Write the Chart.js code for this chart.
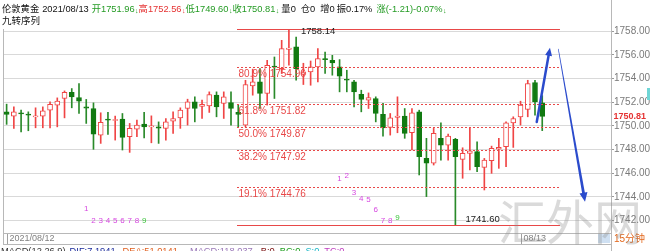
<!DOCTYPE html>
<html>
<head>
<meta charset="utf-8">
<script src="https://cdn.jsdelivr.net/npm/chart.js@4.4.0/dist/chart.umd.min.js"></script>
<style>
  html, body { margin: 0; padding: 0; background: #ffffff; }
  #wrap { width: 650px; height: 251px; position: relative; overflow: hidden; }
</style>
</head>
<body>
<div id="wrap"><canvas id="chart" width="650" height="251"></canvas></div>
<script>
// 15 minute candles, London gold
var opens  = [1751.19, 1750.83, 1751.10, 1750.99, 1750.77, 1750.83, 1751.33, 1751.76, 1752.32, 1752.85,
              1752.40, 1751.61, 1751.47, 1749.22, 1750.57, 1750.46, 1750.57, 1749.08, 1749.73, 1750.15,
              1749.92, 1749.92, 1749.79, 1750.40, 1750.68, 1751.47, 1752.03, 1751.64, 1751.70, 1752.60,
              1751.90, 1751.98, 1751.14, 1750.07, 1753.38, 1753.72, 1752.74, 1755.06, 1754.85, 1756.48,
              1756.68, 1754.35, 1754.57, 1754.99, 1755.70, 1755.55, 1754.99, 1753.95, 1753.72, 1752.68,
              1752.18, 1752.32, 1750.97, 1749.87, 1750.72, 1750.83, 1749.42, 1751.19, 1747.25, 1746.84,
              1748.95, 1748.38, 1748.86, 1747.17, 1747.68, 1747.82, 1746.49, 1747.05, 1748.04, 1748.24,
              1750.26, 1750.77, 1751.39, 1753.67, 1751.96];
var highs  = [1751.84, 1751.61, 1751.33, 1751.19, 1751.53, 1751.61, 1752.03, 1752.37, 1752.96, 1753.16,
              1753.59, 1752.24, 1751.95, 1751.11, 1751.14, 1750.83, 1751.05, 1750.21, 1750.49, 1751.14,
              1750.85, 1750.34, 1750.63, 1751.19, 1751.53, 1752.26, 1752.46, 1752.18, 1752.88, 1752.88,
              1752.88, 1752.88, 1751.76, 1753.86, 1754.80, 1754.85, 1755.55, 1755.83, 1757.24, 1758.14,
              1757.52, 1755.30, 1755.49, 1756.54, 1756.25, 1755.97, 1755.61, 1754.71, 1753.86, 1753.02,
              1752.79, 1752.46, 1751.90, 1751.05, 1752.46, 1751.47, 1751.47, 1751.33, 1748.95, 1749.79,
              1750.26, 1749.31, 1748.95, 1748.15, 1749.79, 1748.66, 1747.25, 1748.29, 1748.95, 1750.34,
              1750.77, 1752.09, 1753.86, 1753.86, 1752.56];
var lows   = [1750.13, 1749.79, 1749.50, 1749.59, 1749.84, 1749.84, 1749.84, 1749.92, 1750.68, 1751.53,
              1751.05, 1750.21, 1748.02, 1748.52, 1749.28, 1748.80, 1747.96, 1747.76, 1749.08, 1748.99,
              1748.57, 1748.52, 1748.80, 1749.37, 1749.79, 1750.07, 1750.34, 1750.63, 1751.14, 1750.77,
              1750.63, 1750.07, 1749.92, 1749.92, 1752.60, 1751.47, 1751.76, 1752.32, 1754.43, 1755.13,
              1753.86, 1753.50, 1753.44, 1753.72, 1754.43, 1754.29, 1752.88, 1752.88, 1751.61, 1751.19,
              1751.47, 1750.34, 1749.14, 1749.22, 1749.42, 1748.95, 1747.96, 1745.85, 1744.02, 1746.69,
              1747.11, 1747.11, 1741.60, 1745.57, 1746.27, 1746.13, 1744.58, 1745.99, 1746.41, 1746.55,
              1748.18, 1750.07, 1750.77, 1750.91, 1749.60];
var closes = [1750.97, 1751.19, 1751.02, 1750.91, 1750.85, 1751.27, 1751.82, 1752.09, 1752.85, 1752.46,
              1752.09, 1751.50, 1749.31, 1750.30, 1750.49, 1750.54, 1749.03, 1749.79, 1750.07, 1749.92,
              1750.00, 1749.80, 1750.34, 1750.63, 1751.33, 1752.03, 1751.47, 1751.82, 1752.66, 1751.61,
              1752.46, 1751.47, 1750.97, 1753.50, 1753.72, 1752.74, 1755.13, 1754.96, 1756.54, 1756.59,
              1754.85, 1754.57, 1754.99, 1755.70, 1755.61, 1755.32, 1754.20, 1753.86, 1752.88, 1752.24,
              1752.40, 1751.05, 1749.84, 1750.68, 1750.83, 1749.37, 1751.11, 1747.39, 1746.84, 1749.37,
              1748.38, 1749.14, 1747.39, 1747.68, 1747.90, 1746.55, 1747.11, 1748.10, 1748.18, 1750.26,
              1750.63, 1751.76, 1753.59, 1752.03, 1750.81];

var slotCount = 84;            // candle slots across the pane (last ones empty)
var priceTicks = [1742, 1744, 1746, 1748, 1750, 1752, 1754, 1756, 1758];
var yMin = 1740.94, yMax = 1758.79;
var lastPrice = 1750.81;

// Fibonacci retracement drawn from the high to the low
var fibPercents = ['', '80.9%', '61.8%', '50.0%', '38.2%', '19.1%', ''];
var fibPrices   = [1758.14, 1754.96, 1751.82, 1749.87, 1747.92, 1744.76, 1741.60];
var fibFrom = 31.83, fibTo = 76.45;

// 九转序列 counts
var tdIndex1 = [11, 12, 13, 14, 15, 16, 17, 18, 19];
var tdPrice1 = [1742.97, 1741.96, 1741.96, 1741.96, 1741.96, 1741.96, 1741.96, 1741.96, 1741.96];
var tdIndex2 = [46, 47, 48, 49, 50, 51, 52, 53, 54];
var tdPrice2 = [1745.56, 1745.78, 1744.38, 1743.81, 1743.79, 1742.89, 1741.96, 1741.98, 1742.19];

// hand drawn arrows [index, price]
var arrowUp   = [[73.24, 1750.33], [75.07, 1756.61]];
var arrowDown = [[76.22, 1756.52], [79.91, 1743.59]];

var dateTicks = [[0, '2021/08/12'], [71, '08/13']];

var upColor = '#f04545';
var downColor = '#117a11';
var fibColor = '#e84848';
var green = '#249b24';
var red = '#e53232';

// [text, colour, gap before, trailing arrow]
var headerSegs = [
    ['伦敦黄金', '#111', 0, false],
    ['2021/08/13', '#111', 3, false],
    ['开1751.96', green, 3, true],
    ['高1752.56', red, 0, true],
    ['低1749.60', green, 0, true],
    ['收1750.81', green, 0, true],
    ['量0', '#111', 2, false],
    ['仓0', '#111', 5, false],
    ['增0', '#111', 5, false],
    ['振0.17%', '#111', 2, false],
    ['涨(-1.21)-0.07%', green, 4, true]
];
var macdSegs = [
    ['MACD(12,26,9)', '#333', 0, false],
    ['DIF:7.1941', '#1a2a9a', 4, true],
    ['DEA:51.0141', '#e06020', 3, true],
    ['MACD:118.037', '#9a78b8', 8, true],
    ['B:0', '#7a1010', 4, false],
    ['BC:0', '#20a020', 5, false],
    ['S:0', '#20b8c8', 5, false],
    ['TC:0', '#c040c0', 5, false]
];

var timeLabels = [];
for (var k = 0; k < slotCount; k++) {
    var m = 6 * 60 + k * 15;
    var hh = Math.floor(m / 60) % 24, mm = m % 60;
    timeLabels.push((hh < 10 ? '0' : '') + hh + ':' + (mm < 10 ? '0' : '') + mm);
}

var FONT = '"Liberation Sans", "Noto Sans CJK SC", sans-serif';

function isUp(i) { return closes[i] >= opens[i]; }

function drawFlow(ctx, segs, x, y, size) {
    ctx.textBaseline = 'middle';
    ctx.textAlign = 'left';
    segs.forEach(function(s) {
        x += s[2];
        ctx.font = size + 'px ' + FONT;
        ctx.fillStyle = s[1];
        ctx.fillText(s[0], x, y);
        x += ctx.measureText(s[0]).width;
        if (s[3]) {
            ctx.font = '7px ' + FONT;
            ctx.fillText('↓', x + 0.5, y + 2);
            x += 4;
        }
    });
}

var overlayPlugin = {
    id: 'overlay',
    afterDatasetsDraw: function(chart) {
        var ctx = chart.ctx;
        var xs = chart.scales.x, ys = chart.scales.y;
        var x0 = xs.getPixelForValue(fibFrom), x1 = xs.getPixelForValue(fibTo);
        ctx.save();

        // fib levels
        fibPrices.forEach(function(p, i) {
            var y = Math.floor(ys.getPixelForValue(p)) + 0.5;
            ctx.strokeStyle = fibColor;
            ctx.lineWidth = 1;
            ctx.setLineDash(fibPercents[i] ? [2, 2] : []);
            ctx.beginPath();
            ctx.moveTo(x0, y);
            ctx.lineTo(x1, y);
            ctx.stroke();
            ctx.setLineDash([]);
            ctx.textBaseline = 'middle';
            ctx.textAlign = 'left';
            if (fibPercents[i]) {
                ctx.font = '10px ' + FONT;
                ctx.fillStyle = fibColor;
                ctx.fillText(fibPercents[i] + ' ' + p.toFixed(2), x0 + 1.5, y + 6.5);
            }
        });
        // price labels at the high and low candles
        var hiIdx = highs.indexOf(Math.max.apply(null, highs));
        var loIdx = lows.indexOf(Math.min.apply(null, lows));
        ctx.font = '9.5px ' + FONT;
        ctx.fillStyle = '#222';
        ctx.fillText(fibPrices[0].toFixed(2), xs.getPixelForValue(hiIdx) + 12, ys.getPixelForValue(fibPrices[0]) + 1.5);
        ctx.fillText(fibPrices[6].toFixed(2), xs.getPixelForValue(loIdx) + 10, ys.getPixelForValue(fibPrices[6]) - 5.5);

        // 九转 numbers
        ctx.font = '8px ' + FONT;
        ctx.textAlign = 'center';
        [[tdIndex1, tdPrice1], [tdIndex2, tdPrice2]].forEach(function(set) {
            set[0].forEach(function(idx, j) {
                ctx.fillStyle = j === 8 ? '#3cc43c' : '#d646e0';
                ctx.fillText(String(j + 1), xs.getPixelForValue(idx), ys.getPixelForValue(set[1][j]));
            });
        });

        // arrows
        var ax0 = xs.getPixelForValue(arrowUp[0][0]), ay0 = ys.getPixelForValue(arrowUp[0][1]);
        var ax1 = xs.getPixelForValue(arrowUp[1][0]), ay1 = ys.getPixelForValue(arrowUp[1][1]);
        var ang = Math.atan2(ay1 - ay0, ax1 - ax0);
        var hl = 8, hw = 3.5;
        ctx.strokeStyle = '#2b4bcc';
        ctx.fillStyle = '#2b4bcc';
        ctx.lineWidth = 2.5;
        ctx.lineCap = 'round';
        ctx.beginPath();
        ctx.moveTo(ax0, ay0);
        ctx.lineTo(ax1 - Math.cos(ang) * hl * 0.8, ay1 - Math.sin(ang) * hl * 0.8);
        ctx.stroke();
        ctx.beginPath();
        ctx.moveTo(ax1, ay1);
        ctx.lineTo(ax1 - Math.cos(ang) * hl - Math.sin(ang) * hw, ay1 - Math.sin(ang) * hl + Math.cos(ang) * hw);
        ctx.lineTo(ax1 - Math.cos(ang) * hl + Math.sin(ang) * hw, ay1 - Math.sin(ang) * hl - Math.cos(ang) * hw);
        ctx.closePath();
        ctx.fill();

        var bx0 = xs.getPixelForValue(arrowDown[0][0]), by0 = ys.getPixelForValue(arrowDown[0][1]);
        var bx1 = xs.getPixelForValue(arrowDown[1][0]), by1 = ys.getPixelForValue(arrowDown[1][1]);
        var bang = Math.atan2(by1 - by0, bx1 - bx0);
        var nx = -Math.sin(bang), ny = Math.cos(bang);
        var bl = 9, bw = 4;
        var ex = bx1 - Math.cos(bang) * bl * 0.8, ey = by1 - Math.sin(bang) * bl * 0.8;
        ctx.beginPath();
        ctx.moveTo(bx0 + nx * 0.3, by0 + ny * 0.3);
        ctx.lineTo(ex + nx * 1.4, ey + ny * 1.4);
        ctx.lineTo(ex - nx * 1.4, ey - ny * 1.4);
        ctx.lineTo(bx0 - nx * 0.3, by0 - ny * 0.3);
        ctx.closePath();
        ctx.fill();
        ctx.beginPath();
        ctx.moveTo(bx1, by1);
        ctx.lineTo(bx1 - Math.cos(bang) * bl + nx * bw, by1 - Math.sin(bang) * bl + ny * bw);
        ctx.lineTo(bx1 - Math.cos(bang) * bl - nx * bw, by1 - Math.sin(bang) * bl - ny * bw);
        ctx.closePath();
        ctx.fill();
        ctx.restore();
    },
    afterDraw: function(chart) {
        var ctx = chart.ctx;
        var area = chart.chartArea;
        var xs = chart.scales.x, ys = chart.scales.y;
        ctx.save();

        // pane borders
        ctx.strokeStyle = '#b8b8b8';
        ctx.lineWidth = 1;
        ctx.beginPath();
        ctx.moveTo(area.left + 0.5, 29);
        ctx.lineTo(area.left + 0.5, 244);
        ctx.moveTo(area.left, 233.5);
        ctx.lineTo(area.right, 233.5);
        ctx.moveTo(area.left, 244.5);
        ctx.lineTo(area.right, 244.5);
        ctx.moveTo(area.right + 0.5, 0);
        ctx.lineTo(area.right + 0.5, 251);
        ctx.stroke();

        // date row
        ctx.font = '9px ' + FONT;
        ctx.fillStyle = '#808080';
        ctx.textBaseline = 'middle';
        ctx.textAlign = 'left';
        dateTicks.forEach(function(d) {
            var x = Math.round(xs.getPixelForValue(d[0])) + 0.5;
            ctx.strokeStyle = '#a0a0a0';
            ctx.beginPath();
            ctx.moveTo(x, 234);
            ctx.lineTo(x, 244);
            ctx.stroke();
            ctx.fillText(d[1], x + 2, 239);
        });
        ctx.fillStyle = '#cfe0f2';
        ctx.fillRect(598, 234, 12, 9);
        ctx.font = '10px ' + FONT;
        ctx.fillStyle = '#e2661a';
        ctx.fillText('15分钟', 614, 239);

        // last price on the axis
        ctx.font = 'bold 9px ' + FONT;
        ctx.fillStyle = '#e53232';
        ctx.fillText(lastPrice.toFixed(2), area.right + 2.5, ys.getPixelForValue(lastPrice));
        ctx.fillStyle = '#6fd6d6';
        ctx.fillRect(647, 88, 3, 12);

        // header and indicator rows
        drawFlow(ctx, headerSegs, 2, 9, 9.3);
        ctx.font = '9.5px ' + FONT;
        ctx.fillStyle = '#111';
        ctx.fillText('九转序列', 2, 21);
        drawFlow(ctx, macdSegs, 1, 251, 9.3);

        // watermark
        ctx.font = '48px "Noto Sans CJK SC", sans-serif';
        ctx.fillStyle = 'rgba(140,140,140,0.32)';
        ctx.textAlign = 'center';
        ctx.fillText('汇外网', 570, 222);
        ctx.restore();
    }
};

new Chart(document.getElementById('chart').getContext('2d'), {
    type: 'bar',
    data: {
        labels: timeLabels,
        datasets: [{
            label: 'body',
            data: opens.map(function(o, i) { return [o, closes[i]]; }),
            order: 0,
            grouped: false,
            barThickness: 5,
            borderWidth: 1,
            borderSkipped: false,
            borderColor: function(c) { return isUp(c.dataIndex) ? upColor : downColor; },
            backgroundColor: function(c) { return isUp(c.dataIndex) ? '#ffffff' : downColor; }
        }, {
            label: 'wick',
            data: lows.map(function(l, i) { return [l, highs[i]]; }),
            order: 1,
            grouped: false,
            barThickness: 1,
            borderWidth: 0,
            backgroundColor: function(c) { return isUp(c.dataIndex) ? upColor : '#2a8a2a'; }
        }]
    },
    options: {
        responsive: false,
        animation: false,
        devicePixelRatio: 1,
        events: [],
        layout: { padding: { left: 3, right: 0, top: 22, bottom: 18 } },
        plugins: { legend: { display: false }, tooltip: { enabled: false } },
        scales: {
            x: { display: false, offset: true, grid: { display: false } },
            y: {
                position: 'right',
                min: yMin,
                max: yMax,
                afterFit: function(s) { s.width = 39; },
                afterBuildTicks: function(s) {
                    s.ticks = priceTicks.map(function(v) { return { value: v }; });
                },
                grid: { color: '#d9d9d9', tickLength: 3, tickColor: '#999' },
                border: { display: false },
                ticks: {
                    padding: 0,
                    color: '#7a7a7a',
                    font: { size: 10, family: FONT },
                    callback: function(v) { return Number(v).toFixed(2); }
                }
            }
        }
    },
    plugins: [overlayPlugin]
});
</script>
</body>
</html>
